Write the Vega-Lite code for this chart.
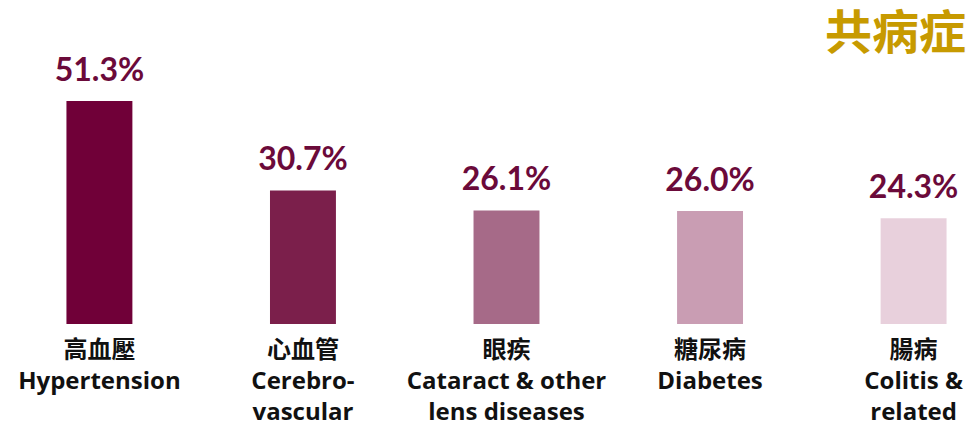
{
  "$schema": "https://vega.github.io/schema/vega-lite/v6.json",
  "autosize": "none",
  "padding": {"top": 50, "left": 41, "right": 0, "bottom": 101},
  "width": 931,
  "height": 274,
  "background": "white",
  "title": {
    "text": "共病症",
    "anchor": "end",
    "frame": "group",
    "orient": "top",
    "offset": -9,
    "dx": -6,
    "font": "Noto Sans CJK TC",
    "fontSize": 47,
    "fontWeight": "bold",
    "color": "#C79A00"
  },
  "data": {
    "values": [
      {"category": "高血壓|Hypertension", "value": 51.3, "label": "51.3%", "color": "#700038"},
      {"category": "心血管|Cerebro-|vascular", "value": 30.7, "label": "30.7%", "color": "#7B1F4B"},
      {"category": "眼疾|Cataract & other|lens diseases", "value": 26.1, "label": "26.1%", "color": "#A66A88"},
      {"category": "糖尿病|Diabetes", "value": 26.0, "label": "26.0%", "color": "#C99DB3"},
      {"category": "腸病|Colitis &|related", "value": 24.3, "label": "24.3%", "color": "#E8D0DC"}
    ]
  },
  "encoding": {
    "x": {
      "field": "category",
      "type": "nominal",
      "sort": null,
      "scale": {"paddingInner": 0.676, "paddingOuter": 0.125},
      "axis": {
        "title": null,
        "domain": false,
        "ticks": false,
        "labelAngle": 0,
        "labelPadding": 14,
        "labelExpr": "split(datum.label, '|')",
        "labelFont": "Open Sans, Noto Sans CJK TC",
        "labelFontSize": 24,
        "labelFontWeight": "bold",
        "labelColor": "#111111",
        "labelLineHeight": 31,
        "labelOverlap": false,
        "labelLimit": 400
      }
    },
    "y": {
      "field": "value",
      "type": "quantitative",
      "scale": {"domain": [0, 63], "nice": false},
      "axis": null
    }
  },
  "layer": [
    {
      "mark": {"type": "bar"},
      "encoding": {
        "color": {"field": "color", "type": "nominal", "scale": null}
      }
    },
    {
      "mark": {
        "type": "text",
        "baseline": "bottom",
        "dy": -13,
        "font": "Lato",
        "fontSize": 32,
        "fontWeight": "bold",
        "color": "#6B0A3A"
      },
      "encoding": {
        "text": {"field": "label", "type": "nominal"}
      }
    }
  ],
  "config": {
    "view": {"stroke": null}
  }
}
